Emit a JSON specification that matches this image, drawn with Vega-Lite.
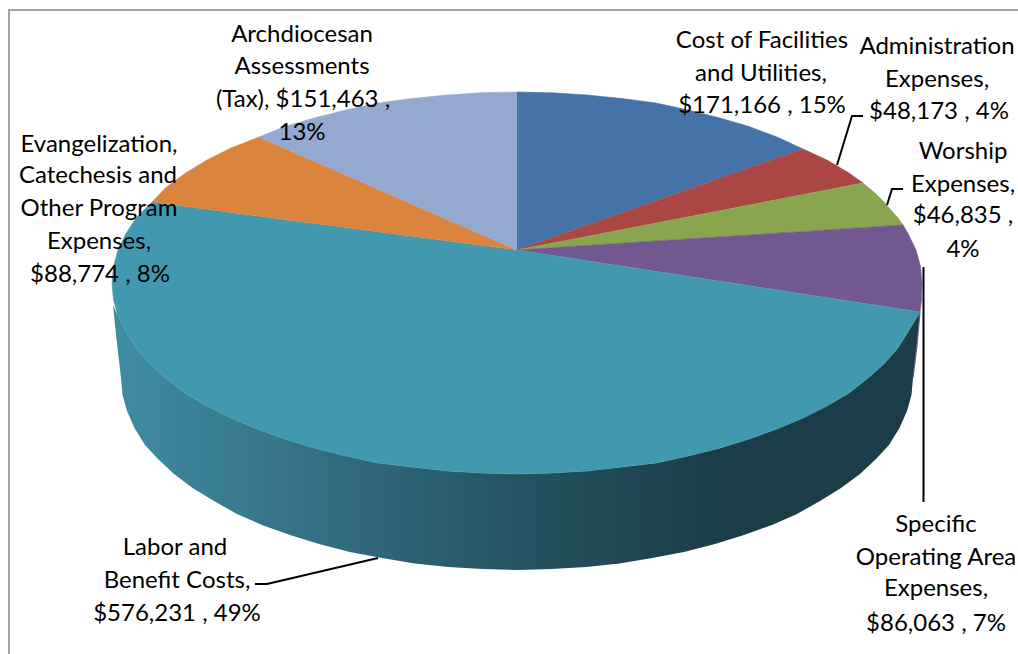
{"$schema":"https://vega.github.io/schema/vega-lite/v6.json","width":1018,"height":654,"padding":0,"autosize":{"type":"none"},"background":"white","config":{"view":{"stroke":null},"axis":{"disable":true},"legend":{"disable":true}},
"datasets":{
"frame":[{"n":1,"x":1018,"y":10},{"n":2,"x":9,"y":10},{"n":3,"x":9,"y":654}],
"wall":[{"n":1,"x":920,"y":312},{"n":2,"x":908,"y":332},{"n":3,"x":898,"y":348},{"n":4,"x":884,"y":364},{"n":5,"x":868,"y":378},{"n":6,"x":849,"y":393},{"n":7,"x":827,"y":406},{"n":8,"x":803,"y":418},{"n":9,"x":777,"y":429},{"n":10,"x":749,"y":439},{"n":11,"x":720,"y":448},{"n":12,"x":688,"y":456},{"n":13,"x":656,"y":463},{"n":14,"x":622,"y":467},{"n":15,"x":587,"y":471},{"n":16,"x":552,"y":473},{"n":17,"x":517,"y":474},{"n":18,"x":482,"y":473},{"n":19,"x":447,"y":471},{"n":20,"x":412,"y":467},{"n":21,"x":378,"y":463},{"n":22,"x":346,"y":456},{"n":23,"x":314,"y":448},{"n":24,"x":285,"y":439},{"n":25,"x":257,"y":429},{"n":26,"x":231,"y":418},{"n":27,"x":207,"y":406},{"n":28,"x":185,"y":393},{"n":29,"x":166,"y":378},{"n":30,"x":150,"y":364},{"n":31,"x":136,"y":348},{"n":32,"x":126,"y":332},{"n":33,"x":118,"y":316},{"n":34,"x":113,"y":305},{"n":35,"x":116,"y":335},{"n":36,"x":121,"y":378},{"n":37,"x":122.5,"y":395},{"n":38,"x":127,"y":411},{"n":39,"x":134.5,"y":428},{"n":40,"x":145,"y":445},{"n":41,"x":158,"y":459},{"n":42,"x":174,"y":474},{"n":43,"x":192.6,"y":488},{"n":44,"x":214,"y":501},{"n":45,"x":237,"y":514},{"n":46,"x":262,"y":525},{"n":47,"x":290,"y":535},{"n":48,"x":319,"y":544},{"n":49,"x":350,"y":552},{"n":50,"x":382,"y":558},{"n":51,"x":414.5,"y":563.5},{"n":52,"x":448,"y":567},{"n":53,"x":482.5,"y":569},{"n":54,"x":517,"y":570},{"n":55,"x":551.5,"y":569},{"n":56,"x":586,"y":567},{"n":57,"x":619.5,"y":563.5},{"n":58,"x":652,"y":558},{"n":59,"x":684,"y":552},{"n":60,"x":715,"y":544},{"n":61,"x":744,"y":535},{"n":62,"x":772,"y":525},{"n":63,"x":797,"y":514},{"n":64,"x":820,"y":501},{"n":65,"x":841,"y":488},{"n":66,"x":860,"y":474},{"n":67,"x":876,"y":459},{"n":68,"x":889,"y":445},{"n":69,"x":899.5,"y":428},{"n":70,"x":907,"y":411},{"n":71,"x":911.5,"y":395},{"n":72,"x":913,"y":378},{"n":73,"x":917,"y":345}],
"edge":[{"n":1,"x":920,"y":312},{"n":2,"x":917,"y":345},{"n":3,"x":913,"y":378}],
"slices":[
{"c":"Cost of Facilities and Utilities","amount":171166,"n":0,"x":517,"y":250},{"c":"Cost of Facilities and Utilities","amount":171166,"n":1,"x":517,"y":92},{"c":"Cost of Facilities and Utilities","amount":171166,"n":2,"x":552,"y":92.7},{"c":"Cost of Facilities and Utilities","amount":171166,"n":3,"x":587,"y":95},{"c":"Cost of Facilities and Utilities","amount":171166,"n":4,"x":622,"y":98.5},{"c":"Cost of Facilities and Utilities","amount":171166,"n":5,"x":656,"y":103},{"c":"Cost of Facilities and Utilities","amount":171166,"n":6,"x":688,"y":110},{"c":"Cost of Facilities and Utilities","amount":171166,"n":7,"x":720,"y":118},{"c":"Cost of Facilities and Utilities","amount":171166,"n":8,"x":749,"y":126.5},{"c":"Cost of Facilities and Utilities","amount":171166,"n":9,"x":777,"y":137},{"c":"Cost of Facilities and Utilities","amount":171166,"n":10,"x":803,"y":149},
{"c":"Administration Expenses","amount":48173,"n":0,"x":517,"y":250},{"c":"Administration Expenses","amount":48173,"n":1,"x":803,"y":149},{"c":"Administration Expenses","amount":48173,"n":2,"x":827,"y":160},{"c":"Administration Expenses","amount":48173,"n":3,"x":849,"y":173},{"c":"Administration Expenses","amount":48173,"n":4,"x":863,"y":183},
{"c":"Worship Expenses","amount":46835,"n":0,"x":517,"y":250},{"c":"Worship Expenses","amount":46835,"n":1,"x":863,"y":183},{"c":"Worship Expenses","amount":46835,"n":2,"x":875,"y":193},{"c":"Worship Expenses","amount":46835,"n":3,"x":884,"y":202},{"c":"Worship Expenses","amount":46835,"n":4,"x":898,"y":218},{"c":"Worship Expenses","amount":46835,"n":5,"x":903,"y":225},
{"c":"Specific Operating Area Expenses","amount":86063,"n":0,"x":517,"y":250},{"c":"Specific Operating Area Expenses","amount":86063,"n":1,"x":903,"y":225},{"c":"Specific Operating Area Expenses","amount":86063,"n":2,"x":908,"y":233.6},{"c":"Specific Operating Area Expenses","amount":86063,"n":3,"x":916,"y":250},{"c":"Specific Operating Area Expenses","amount":86063,"n":4,"x":920.5,"y":266.4},{"c":"Specific Operating Area Expenses","amount":86063,"n":5,"x":922,"y":283},{"c":"Specific Operating Area Expenses","amount":86063,"n":6,"x":921.5,"y":300},{"c":"Specific Operating Area Expenses","amount":86063,"n":7,"x":920,"y":312},
{"c":"Labor and Benefit Costs","amount":576231,"n":0,"x":517,"y":250},{"c":"Labor and Benefit Costs","amount":576231,"n":1,"x":920,"y":312},{"c":"Labor and Benefit Costs","amount":576231,"n":2,"x":908,"y":332},{"c":"Labor and Benefit Costs","amount":576231,"n":3,"x":898,"y":348},{"c":"Labor and Benefit Costs","amount":576231,"n":4,"x":884,"y":364},{"c":"Labor and Benefit Costs","amount":576231,"n":5,"x":868,"y":378},{"c":"Labor and Benefit Costs","amount":576231,"n":6,"x":849,"y":393},{"c":"Labor and Benefit Costs","amount":576231,"n":7,"x":827,"y":406},{"c":"Labor and Benefit Costs","amount":576231,"n":8,"x":803,"y":418},{"c":"Labor and Benefit Costs","amount":576231,"n":9,"x":777,"y":429},{"c":"Labor and Benefit Costs","amount":576231,"n":10,"x":749,"y":439},{"c":"Labor and Benefit Costs","amount":576231,"n":11,"x":720,"y":448},{"c":"Labor and Benefit Costs","amount":576231,"n":12,"x":688,"y":456},{"c":"Labor and Benefit Costs","amount":576231,"n":13,"x":656,"y":463},{"c":"Labor and Benefit Costs","amount":576231,"n":14,"x":622,"y":467},{"c":"Labor and Benefit Costs","amount":576231,"n":15,"x":587,"y":471},{"c":"Labor and Benefit Costs","amount":576231,"n":16,"x":552,"y":473},{"c":"Labor and Benefit Costs","amount":576231,"n":17,"x":517,"y":474},{"c":"Labor and Benefit Costs","amount":576231,"n":18,"x":482,"y":473},{"c":"Labor and Benefit Costs","amount":576231,"n":19,"x":447,"y":471},{"c":"Labor and Benefit Costs","amount":576231,"n":20,"x":412,"y":467},{"c":"Labor and Benefit Costs","amount":576231,"n":21,"x":378,"y":463},{"c":"Labor and Benefit Costs","amount":576231,"n":22,"x":346,"y":456},{"c":"Labor and Benefit Costs","amount":576231,"n":23,"x":314,"y":448},{"c":"Labor and Benefit Costs","amount":576231,"n":24,"x":285,"y":439},{"c":"Labor and Benefit Costs","amount":576231,"n":25,"x":257,"y":429},{"c":"Labor and Benefit Costs","amount":576231,"n":26,"x":231,"y":418},{"c":"Labor and Benefit Costs","amount":576231,"n":27,"x":207,"y":406},{"c":"Labor and Benefit Costs","amount":576231,"n":28,"x":185,"y":393},{"c":"Labor and Benefit Costs","amount":576231,"n":29,"x":166,"y":378},{"c":"Labor and Benefit Costs","amount":576231,"n":30,"x":150,"y":364},{"c":"Labor and Benefit Costs","amount":576231,"n":31,"x":136,"y":348},{"c":"Labor and Benefit Costs","amount":576231,"n":32,"x":126,"y":332},{"c":"Labor and Benefit Costs","amount":576231,"n":33,"x":118,"y":316},{"c":"Labor and Benefit Costs","amount":576231,"n":34,"x":113.5,"y":300},{"c":"Labor and Benefit Costs","amount":576231,"n":35,"x":112,"y":283},{"c":"Labor and Benefit Costs","amount":576231,"n":36,"x":113.5,"y":266},{"c":"Labor and Benefit Costs","amount":576231,"n":37,"x":118,"y":250},{"c":"Labor and Benefit Costs","amount":576231,"n":38,"x":126,"y":233.6},{"c":"Labor and Benefit Costs","amount":576231,"n":39,"x":136,"y":218},{"c":"Labor and Benefit Costs","amount":576231,"n":40,"x":152,"y":202},
{"c":"Evangelization, Catechesis and Other Program Expenses","amount":88774,"n":0,"x":517,"y":250},{"c":"Evangelization, Catechesis and Other Program Expenses","amount":88774,"n":1,"x":152,"y":202},{"c":"Evangelization, Catechesis and Other Program Expenses","amount":88774,"n":2,"x":166,"y":187.5},{"c":"Evangelization, Catechesis and Other Program Expenses","amount":88774,"n":3,"x":185,"y":173.4},{"c":"Evangelization, Catechesis and Other Program Expenses","amount":88774,"n":4,"x":207,"y":160},{"c":"Evangelization, Catechesis and Other Program Expenses","amount":88774,"n":5,"x":231,"y":148},{"c":"Evangelization, Catechesis and Other Program Expenses","amount":88774,"n":6,"x":259,"y":137},
{"c":"Archdiocesan Assessments (Tax)","amount":151463,"n":0,"x":517,"y":250},{"c":"Archdiocesan Assessments (Tax)","amount":151463,"n":1,"x":259,"y":137},{"c":"Archdiocesan Assessments (Tax)","amount":151463,"n":2,"x":285,"y":126.5},{"c":"Archdiocesan Assessments (Tax)","amount":151463,"n":3,"x":314,"y":118},{"c":"Archdiocesan Assessments (Tax)","amount":151463,"n":4,"x":346,"y":110},{"c":"Archdiocesan Assessments (Tax)","amount":151463,"n":5,"x":378,"y":103},{"c":"Archdiocesan Assessments (Tax)","amount":151463,"n":6,"x":412,"y":98.5},{"c":"Archdiocesan Assessments (Tax)","amount":151463,"n":7,"x":447,"y":95},{"c":"Archdiocesan Assessments (Tax)","amount":151463,"n":8,"x":482,"y":92.7},{"c":"Archdiocesan Assessments (Tax)","amount":151463,"n":9,"x":517,"y":92}
],
"leaders":[
{"g":"admin","n":1,"x":837,"y":165},{"g":"admin","n":2,"x":852,"y":116},{"g":"admin","n":3,"x":863,"y":116},
{"g":"worship","n":1,"x":887,"y":205},{"g":"worship","n":2,"x":892,"y":189},{"g":"worship","n":3,"x":903,"y":189},
{"g":"specific","n":1,"x":923.5,"y":267},{"g":"specific","n":2,"x":923.5,"y":502},
{"g":"labor","n":1,"x":378,"y":558},{"g":"labor","n":2,"x":267,"y":584},{"g":"labor","n":3,"x":255,"y":584}],
"labels":[
{"t":"Archdiocesan","x":302,"y":33},{"t":"Assessments","x":302,"y":65},{"t":"(Tax),  $151,463 ,","x":303,"y":98},{"t":"13%","x":302,"y":131},
{"t":"Evangelization,","x":99,"y":143},{"t":"Catechesis and","x":98,"y":174},{"t":"Other Program","x":99,"y":207},{"t":"Expenses,","x":99,"y":240},{"t":"$88,774 , 8%","x":100,"y":273},
{"t":"Cost of Facilities","x":762,"y":39},{"t":"and Utilities,","x":761,"y":72},{"t":"$171,166 , 15%","x":762,"y":104},
{"t":"Administration","x":937,"y":45},{"t":"Expenses,","x":937,"y":78},{"t":"$48,173 , 4%","x":939,"y":110},
{"t":"Worship","x":963,"y":150},{"t":"Expenses,","x":963,"y":183},{"t":"$46,835 ,","x":963,"y":214},{"t":"4%","x":963,"y":248},
{"t":"Labor and","x":175,"y":546},{"t":"Benefit Costs,","x":177,"y":579},{"t":"$576,231 , 49%","x":177,"y":612},
{"t":"Specific","x":936,"y":523},{"t":"Operating Area","x":936,"y":556},{"t":"Expenses,","x":936,"y":587},{"t":"$86,063 , 7%","x":936,"y":622}]
},
"encoding":{
"x":{"field":"x","type":"quantitative","scale":{"domain":[0,1018],"nice":false,"zero":false},"axis":null},
"y":{"field":"y","type":"quantitative","scale":{"domain":[654,0],"nice":false,"zero":false},"axis":null}},
"layer":[
{"data":{"name":"frame"},"mark":{"type":"line","stroke":"#a3a3a3","strokeWidth":2},"encoding":{"order":{"field":"n","type":"quantitative"}}},
{"data":{"name":"wall"},"mark":{"type":"line","filled":true,"stroke":null,"fill":{"gradient":"linear","x1":0,"x2":1,"y1":0,"y2":0,"stops":[{"offset":0,"color":"#3f8ca3"},{"offset":0.2,"color":"#377589"},{"offset":0.38,"color":"#2b6071"},{"offset":0.55,"color":"#234e5c"},{"offset":0.75,"color":"#1c3d48"},{"offset":1,"color":"#1c3d48"}]}},"encoding":{"order":{"field":"n","type":"quantitative"}}},
{"data":{"name":"edge"},"mark":{"type":"line","stroke":"#71588f","strokeWidth":1.2},"encoding":{"order":{"field":"n","type":"quantitative"}}},
{"data":{"name":"slices"},"mark":{"type":"line","filled":true,"strokeWidth":0.6},"encoding":{"order":{"field":"n","type":"quantitative"},"color":{"field":"c","type":"nominal","legend":null,"scale":{"domain":["Cost of Facilities and Utilities","Administration Expenses","Worship Expenses","Specific Operating Area Expenses","Labor and Benefit Costs","Evangelization, Catechesis and Other Program Expenses","Archdiocesan Assessments (Tax)"],"range":["#4572a7","#aa4643","#89a54e","#71588f","#4198af","#db843d","#93a9cf"]}},"stroke":{"field":"c","type":"nominal","legend":null,"scale":{"domain":["Cost of Facilities and Utilities","Administration Expenses","Worship Expenses","Specific Operating Area Expenses","Labor and Benefit Costs","Evangelization, Catechesis and Other Program Expenses","Archdiocesan Assessments (Tax)"],"range":["#4572a7","#aa4643","#89a54e","#71588f","#4198af","#db843d","#93a9cf"]}}}},
{"data":{"name":"leaders"},"mark":{"type":"line","stroke":"#000000","strokeWidth":2},"encoding":{"detail":{"field":"g"},"order":{"field":"n","type":"quantitative"}}},
{"data":{"name":"labels"},"mark":{"type":"text","font":"Lato","fontSize":24,"color":"#000000","align":"center","baseline":"middle","dy":1.5},"encoding":{"text":{"field":"t"}}}
]}
